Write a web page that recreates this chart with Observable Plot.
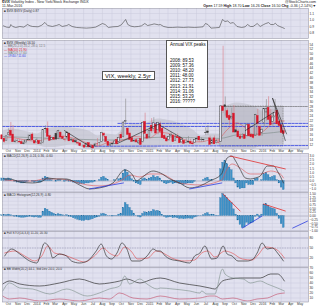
<!DOCTYPE html>
<html><head><meta charset="utf-8">
<script src="https://cdn.jsdelivr.net/npm/d3@7"></script>
<script src="https://cdn.jsdelivr.net/npm/@observablehq/plot@0.6"></script>
<style>
body{margin:0;background:#fff;}
#chart{position:relative;width:320px;height:308px;overflow:hidden;font-family:"Liberation Sans",Arial,sans-serif;color:#222;}
#chart svg{position:absolute;left:0;}
.hdr{position:absolute;font-size:3.6px;line-height:4px;white-space:nowrap;}
.note{position:absolute;background:#fff;border:0.6px solid #555;color:#111;box-sizing:border-box;}
</style></head><body><div id="chart"></div>
<script>
// ---------- DATA ----------
// weekly candles, week of 2013-09-09 .. week of 2016-03-07 (centre of week)
const firstWeek = "2013-09-11";
const vixOpen = [15.9,14.3,13.4, 16.0,17.8,16.2,13.3, 13.5,13.1,13.0,12.5,12.9, 14.0,13.8,16.2,13.4,
 12.9,13.5,12.3,12.6,18.5, 18.6,15.5,14.0,14.8, 16.5,14.3,17.0,15.2, 14.0,14.9,16.6,13.7, 13.8,13.4,12.6,12.5,11.4,
 11.6,10.9,12.6,11.2, 11.4,11.2,12.1,12.6, 13.2,16.5,15.2,13.2,11.6, 12.4,12.4,14.0,13.2, 16.0,15.2,21.5,18.7,16.6,
 14.7,13.4,13.8,12.5, 14.3,13.1,21.5,16.2,
 15.0,19.9,18.6,20.3,18.0, 20.4,18.6,15.6,14.6, 13.9,15.6,15.7,13.4, 15.1,14.9,12.9,13.6, 12.6,13.2,13.1,12.5,12.8,
 14.3,15.3,14.0,13.8, 17.0,17.5,14.6,12.4,14.6, 12.6,12.7,13.2,28.0, 28.5,26.0,24.0,23.0, 25.0,18.0,17.5,15.4,15.0,
 16.0,15.6,20.3,16.1, 16.1,15.8,24.0,19.3,
 17.0,21.1,25.5,27.4,24.0, 21.6,23.8,26.2,21.6, 20.1,17.6];
const vixHigh = [16.0,14.7,15.5, 18.7,21.3,20.0,14.2, 14.1,14.2,13.8,13.6,13.7, 16.1,16.3,16.9,13.5,
 14.6,14.0,13.8,18.2,19.9, 21.5,16.0,15.2,15.8, 17.4,18.0,17.4,16.0, 14.5,17.4,16.8,14.3, 14.2,14.0,13.4,12.8,11.8,
 12.2,12.6,12.6,12.0, 11.6,12.6,14.5,12.9, 17.2,17.1,15.4,13.2,12.4, 12.9,13.9,14.8,16.2, 17.0,21.6,31.1,18.9,17.2,
 15.0,13.8,14.5,13.6, 14.4,21.6,25.2,16.3,
 19.2,22.9,23.3,21.1,21.4, 21.5,19.3,16.2,14.6, 15.5,17.2,16.0,16.3, 16.5,15.1,14.4,14.0, 14.7,15.4,14.2,12.8,14.0,
 15.2,15.4,14.8,14.1, 19.0,20.0,15.5,13.9,15.6, 14.0,14.3,28.4,53.3, 32.0,27.0,24.6,27.3, 28.4,20.4,18.2,16.4,16.6,
 16.4,20.9,20.8,16.6, 19.0,24.7,26.8,19.9,
 18.7,27.1,30.9,32.1,26.8, 25.1,30.9,26.3,22.5, 20.4,18.7];
const vixLow = [13.9,12.6,13.3, 15.5,15.7,13.0,12.6, 12.6,12.6,12.1,11.9,12.3, 13.8,13.6,13.7,12.3,
 12.7,12.1,11.8,12.3,16.7, 15.2,13.5,13.6,13.6, 13.7,14.1,14.5,14.3, 13.1,13.9,13.3,13.2, 12.9,12.6,11.9,11.3,11.0,
 10.7,10.7,10.6,10.6, 10.3,10.9,10.9,11.3, 12.7,15.0,12.4,11.3,11.2, 11.4,12.1,11.9,12.9, 14.5,14.8,20.0,15.7,14.0,
 13.1,12.8,12.9,12.0, 11.8,12.6,16.4,14.2,
 14.6,16.7,17.4,16.0,16.1, 16.6,14.6,14.2,13.0, 13.3,15.0,13.0,13.4, 14.5,12.5,12.5,12.2, 12.4,12.6,12.2,11.8,12.6,
 13.5,12.8,13.0,12.9, 15.8,16.0,11.8,12.0,12.1, 12.3,12.3,12.9,25.0, 24.0,22.8,19.8,22.3, 17.0,16.9,15.0,14.4,14.3,
 14.3,15.2,15.2,14.9, 14.3,15.6,16.6,15.5,
 15.4,19.3,21.9,22.3,20.2, 19.7,23.2,20.3,19.1, 16.7,16.3];
const vixClose = [14.16,13.12,15.46, 16.74,15.72,13.04,13.09, 13.48,12.90,12.19,12.26,13.70, 13.79,15.76,13.79,12.46,
 13.76,12.14,12.44,18.14,18.41, 15.29,13.57,14.68,14.00, 14.11,17.82,15.00,14.41, 13.96,17.03,13.36,14.06, 12.91,12.92,12.44,11.36,11.40,
 10.73,12.18,10.85,11.26, 10.32,12.08,12.06,12.69, 16.95,15.77,13.15,11.47,12.09, 12.09,13.31,12.11,14.85, 14.55,21.24,21.99,16.11,14.03,
 13.12,13.31,12.90,13.33, 11.82,21.08,16.49,14.50,
 17.79,17.55,20.95,16.66,20.97, 17.29,14.69,14.30,13.34, 15.20,16.00,13.02,15.07, 14.67,12.58,13.89,12.29, 12.70,12.86,12.38,12.13,13.84,
 14.21,13.78,13.96,14.02, 16.79,16.83,11.95,13.74,12.12, 13.39,12.83,28.03,26.05, 27.80,23.20,22.28,23.62, 17.08,17.08,15.05,14.46,15.07,
 14.33,20.08,15.47,15.12, 14.81,24.39,20.70,15.74,
 18.21,27.01,27.02,22.34,20.20, 23.38,25.40,20.53,19.81, 16.86,16.50];

// overlays on the price panel (sampled)
const bandDates = ["2013-09-13","2013-10-11","2013-11-08","2013-12-06","2014-01-03","2014-01-31","2014-02-28","2014-03-28","2014-04-25","2014-05-23","2014-06-20","2014-07-18","2014-08-15","2014-09-12","2014-10-10","2014-11-07","2014-12-05","2015-01-02","2015-01-30","2015-02-27","2015-03-27","2015-04-24","2015-05-22","2015-06-19","2015-07-17","2015-08-14","2015-08-21","2015-08-28","2015-09-11","2015-10-09","2015-11-06","2015-12-04","2016-01-01","2016-01-29","2016-02-26","2016-03-11"];
const bandUpper = [17.5,18.5,18.0,17.2,16.5,18.3,19.2,19.5,19.0,18.6,17.6,15.6,16.4,16.0,18.8,20.6,20.2,21.6,22.7,22.2,21.4,20.0,18.0,15.5,16.4,16.3,23.5,27.5,28.5,29.5,29.0,28.0,26.0,26.5,27.5,28.0];
const bandLower = [11.8,12.0,12.0,11.8,11.6,10.8,10.8,11.3,11.9,11.0,9.8,9.9,9.5,9.9,9.0,9.2,9.7,9.6,10.8,11.5,12.0,11.6,11.4,11.8,11.7,11.6,8.5,7.5,7.0,7.5,8.5,10.0,11.5,11.0,12.0,12.5];
const ma10 = [14.6,14.96,14.36,13.69,13.41,14.44,14.49,15.54,14.84,13.75,12.22,11.47,12.73,13.17,14.06,15.34,15.24,14.84,17.11,16.8,15.65,14.04,13.16,13.2,13.99,13.94,15.37,16.58,18.59,21.14,19.0,15.86,17.39,20.55,21.96,21.9];
const ma50 = [["2013-09-13",15.4],["2014-03-01",14.6],["2014-09-01",13.9],["2015-03-01",15.2],["2015-08-14",14.6],["2015-10-15",16.2],["2016-01-01",16.6],["2016-03-11",17.6]];

// hand-drawn annotations on the price panel
const trendLines = [
  [["2014-03-31",17.9],["2014-06-26",10.8]],
  [["2014-09-19",12.5],["2015-02-04",20.9]],
  [["2015-02-04",20.0],["2015-04-17",14.6]],
  [["2015-11-06",17.9],["2016-02-05",25.5]],
  [["2016-02-02",31.4],["2016-03-14",13.7]],
  [["2016-02-02",31.4],["2016-03-18",16.5]]
];
const blueLevels = [
  [["2013-09-12",19.6],["2016-05-28",19.6]],
  [["2014-09-20",20.9],["2016-05-28",20.9]],
  [["2014-06-15",11.3],["2016-05-28",11.6]]
];
const rangeBox = [{start:"2015-08-17", end:"2016-03-08", low:11.2, high:28.0}];
const rangeTop = [["2015-08-17",28.0],["2016-05-28",28.0]];
const annualPeaks = [["2008","89.53"],["2009","57.36"],["2010","48.20"],["2011","48.00"],["2012","27.73"],["2013","21.91"],["2014","31.06"],["2015","53.29"],["2016","?????"]];

// top panel ratio line
const ratioLine = [["2013-09-15",0.91],["2013-09-25",0.89],["2013-10-05",0.885],["2013-10-09",0.93],["2013-10-15",0.90],["2013-10-25",0.885],["2013-11-07",0.90],["2013-11-20",0.89],["2013-12-02",0.931],["2013-12-10",0.91],["2013-12-18",0.90],["2014-01-05",0.895],["2014-01-17",0.92],["2014-01-27",0.962],["2014-02-05",0.915],["2014-02-20",0.90],["2014-03-05",0.915],["2014-03-14",0.931],["2014-03-24",0.90],["2014-04-08",0.915],["2014-04-14",0.931],["2014-04-25",0.90],["2014-05-09",0.885],["2014-05-25",0.88],["2014-06-10",0.875],["2014-06-25",0.88],["2014-07-10",0.89],["2014-08-01",0.946],["2014-08-10",0.93],["2014-08-20",0.885],["2014-09-04",0.895],["2014-09-20",0.90],["2014-10-01",0.925],["2014-10-15",1.008],["2014-10-22",0.93],["2014-11-01",0.905],["2014-11-12",0.895],["2014-11-25",0.90],["2014-12-05",0.91],["2014-12-16",0.946],["2014-12-25",0.915],["2015-01-08",0.93],["2015-01-15",0.94],["2015-01-30",0.925],["2015-02-04",0.93],["2015-02-15",0.90],["2015-03-01",0.885],["2015-03-16",0.885],["2015-04-01",0.89],["2015-04-20",0.885],["2015-05-05",0.89],["2015-05-25",0.885],["2015-06-12",0.89],["2015-06-22",0.895],["2015-06-30",0.946],["2015-07-08",0.93],["2015-07-18",0.875],["2015-08-01",0.88],["2015-08-14",0.885],["2015-08-24",1.008],["2015-09-01",0.977],["2015-09-10",0.985],["2015-09-18",0.95],["2015-09-28",0.96],["2015-10-10",0.90],["2015-10-25",0.885],["2015-11-05",0.895],["2015-11-13",0.931],["2015-11-22",0.90],["2015-12-01",0.90],["2015-12-10",0.93],["2015-12-14",0.946],["2015-12-24",0.90],["2016-01-04",0.93],["2016-01-11",0.946],["2016-01-20",0.96],["2016-01-27",0.93],["2016-02-05",0.93],["2016-02-11",0.95],["2016-02-18",0.915],["2016-02-25",0.90],["2016-03-04",0.885],["2016-03-11",0.87]];

// MACD panel
const macdLine = [["2013-09-19",0.24],["2013-10-05",0.24],["2013-11-07",-0.12],["2013-12-18",-0.24],["2014-01-20",0.0],["2014-02-05",0.36],["2014-03-05",0.24],["2014-04-07",0.24],["2014-05-19",-0.48],["2014-06-20",-0.96],["2014-07-22",-0.84],["2014-09-04",-0.24],["2014-10-12",1.33],["2014-11-04",0.84],["2014-11-20",0.0],["2014-11-30",0.24],["2015-01-12",1.2],["2015-02-04",0.96],["2015-03-07",0.24],["2015-04-07",-0.24],["2015-05-10",-0.84],["2015-06-12",-0.6],["2015-07-14",0.0],["2015-08-21",0.84],["2015-09-08",2.77],["2015-09-24",3.0],["2015-10-04",2.5],["2015-10-20",1.4],["2015-11-06",0.36],["2015-11-22",0.24],["2015-12-08",0.36],["2015-12-24",0.6],["2016-01-16",1.8],["2016-02-05",1.8],["2016-02-21",0.96],["2016-03-08",-0.24]];
const signalLine = [["2013-09-19",0.12],["2013-11-07",0.0],["2013-12-18",0.0],["2014-01-26",0.24],["2014-03-15",0.24],["2014-04-23",0.0],["2014-06-13",-0.48],["2014-07-22",-0.6],["2014-09-04",-0.36],["2014-10-03",0.12],["2014-10-28",0.72],["2014-11-30",0.48],["2014-12-31",0.84],["2015-02-04",0.84],["2015-04-07",-0.24],["2015-06-12",-0.48],["2015-08-21",0.1],["2015-09-08",1.45],["2015-09-24",2.05],["2015-10-20",1.57],["2015-11-22",0.84],["2015-12-24",0.84],["2016-01-27",1.2],["2016-02-27",0.84],["2016-03-08",0.36]];
const macdHist = [0.3,0.3,0.2, 0.3,0.2,0.0,-0.1, -0.2,-0.2,-0.3,-0.3,-0.2, -0.1,0.0,-0.1,-0.2,
 -0.1,-0.2,-0.2,0.3,0.5, 0.4,0.2,0.1,0.0, -0.1,0.1,0.1,0.0, -0.1,0.1,-0.1,-0.1, -0.2,-0.2,-0.3,-0.4,-0.4,
 -0.4,-0.3,-0.3,-0.2, -0.2,-0.1,0.0,0.1, 0.4,0.5,0.3,0.1,0.0, 0.0,0.1,0.0,0.2, 0.3,0.9,1.3,1.0,0.6,
 0.2,-0.1,-0.3,-0.4, -0.5,0.2,0.3,0.1,
 0.3,0.4,0.6,0.4,0.5, 0.3,-0.1,-0.3,-0.4, -0.3,-0.2,-0.4,-0.3, -0.3,-0.4,-0.4,-0.5, -0.4,-0.3,-0.3,-0.3,-0.1,
 0.0,0.0,0.0,0.1, 0.3,0.4,0.1,0.1,0.0, 0.0,0.0,1.4,2.2, 2.4,2.0,1.6,1.3, 0.3,-0.3,-0.8,-1.0,-0.9,
 -0.9,-0.3,-0.5,-0.5, -0.5,0.2,0.3,0.0,
 0.1,0.8,1.0,0.7,0.4, 0.5,0.6,0.1,-0.3, -0.8,-1.1];
const macdRedLines = [[["2015-09-18",3.0],["2016-03-14",1.45]]];
const macdBlueLines = [[["2014-06-20",-0.96],["2014-10-08",-0.24]],[["2015-05-10",-0.96],["2015-08-22",-0.24]]];

// histogram panel
const histB = [0.05,0.08,0.05, 0.1,0.05,-0.02,-0.05, -0.08,-0.1,-0.12,-0.12,-0.1, -0.08,-0.05,-0.08,-0.1,
 -0.08,-0.12,-0.12,0.3,0.49, 0.42,0.3,0.22,0.15, 0.08,0.12,0.1,0.05, 0.02,0.06,-0.05,-0.08, -0.15,-0.2,-0.25,-0.3,-0.34,
 -0.34,-0.28,-0.3,-0.25, -0.22,-0.15,-0.1,-0.05, 0.12,0.15,0.1,0.02,-0.02, -0.03,0.02,-0.02,0.1, 0.15,0.55,0.88,0.75,0.55,
 0.35,0.15,0.02,-0.05, -0.1,0.15,0.25,0.2,
 0.25,0.3,0.4,0.32,0.35, 0.25,0.08,-0.05,-0.12, -0.1,-0.08,-0.15,-0.12, -0.15,-0.2,-0.18,-0.22, -0.2,-0.18,-0.18,-0.2,-0.1,
 -0.05,-0.02,0.02,0.05, 0.15,0.2,0.08,0.1,0.05, 0.03,0.02,1.2,1.49, 1.38,1.2,1.02,0.88, 0.45,0.1,-0.3,-0.6,-0.81,
 -0.78,-0.45,-0.55,-0.5, -0.45,-0.05,0.1,-0.1,
 0.1,0.75,0.81,0.7,0.55, 0.5,0.45,0.15,-0.2, -0.55,-0.8];
const histRedLines = [[["2015-08-26",1.49],["2015-10-20",0.34]],[["2016-01-04",0.81],["2016-03-14",0.34]]];
const histBlueLines = [[["2015-10-27",-0.81],["2015-12-30",0.0]],[["2016-04-07",-0.81],["2016-05-25",-0.34]]];

// stochastic panel
const stoK = [["2013-09-19",26],["2013-10-12",47],["2013-11-07",32],["2013-12-09",11],["2014-01-01",5],["2014-01-26",65],["2014-02-12",47],["2014-02-21",20],["2014-03-15",32],["2014-04-07",26],["2014-04-23",11],["2014-05-19",5],["2014-06-13",11],["2014-07-12",41],["2014-07-28",62],["2014-08-14",26],["2014-08-30",17],["2014-09-17",35],["2014-10-03",65],["2014-10-19",47],["2014-11-04",11],["2014-11-30",11],["2014-12-23",26],["2015-01-12",47],["2015-01-25",41],["2015-02-04",41],["2015-02-20",26],["2015-03-07",17],["2015-04-07",11],["2015-05-10",5],["2015-05-26",26],["2015-06-12",35],["2015-06-28",56],["2015-07-20",17],["2015-08-06",20],["2015-08-26",56],["2015-09-08",32],["2015-09-24",26],["2015-10-13",11],["2015-11-12",11],["2015-12-01",17],["2015-12-14",35],["2015-12-30",65],["2016-01-16",47],["2016-02-02",50],["2016-02-18",35],["2016-03-08",11]];
const stoD = [["2013-09-19",35],["2013-10-22",41],["2013-11-23",26],["2013-12-25",11],["2014-01-17",26],["2014-02-05",56],["2014-02-27",35],["2014-03-31",29],["2014-05-03",17],["2014-06-04",8],["2014-07-06",26],["2014-08-04",50],["2014-08-23",35],["2014-09-17",26],["2014-10-12",53],["2014-11-01",41],["2014-11-23",17],["2014-12-26",20],["2015-01-22",41],["2015-02-13",35],["2015-03-13",20],["2015-04-23",11],["2015-05-26",14],["2015-06-18",35],["2015-07-08",41],["2015-07-30",23],["2015-09-01",41],["2015-09-24",35],["2015-10-27",17],["2015-11-28",14],["2015-12-17",29],["2016-01-09",53],["2016-02-02",50],["2016-02-21",41],["2016-03-11",20]];

// bottom panel
const slowLine = [["2013-09-13",38],["2013-10-05",44],["2013-11-07",38],["2014-01-10",34],["2014-03-15",40],["2014-05-19",48],["2014-07-22",38],["2014-08-23",40],["2014-09-26",44],["2014-10-19",48],["2014-11-30",40],["2015-01-12",48],["2015-02-04",50],["2015-04-07",40],["2015-06-12",34],["2015-07-14",30],["2015-07-30",28],["2015-08-24",44],["2015-09-18",48],["2015-10-20",50],["2015-12-24",50],["2016-01-27",58],["2016-02-18",58],["2016-03-11",44]];
const fastLine = [["2013-09-13",24],["2013-10-05",40],["2013-11-07",30],["2013-12-18",28],["2014-02-12",18],["2014-04-07",28],["2014-06-13",14],["2014-07-22",20],["2014-08-23",28],["2014-09-26",34],["2014-10-12",54],["2014-10-28",38],["2014-11-30",48],["2014-12-23",38],["2015-01-25",28],["2015-02-04",30],["2015-03-16",28],["2015-05-10",24],["2015-06-12",20],["2015-06-18",24],["2015-07-04",18],["2015-07-30",18],["2015-08-24",68],["2015-09-01",58],["2015-09-27",50],["2015-10-30",48],["2015-11-22",40],["2015-12-24",44],["2016-01-16",38],["2016-02-18",30],["2016-03-11",24]];
const lowLine = [["2013-09-13",14],["2013-10-05",8],["2013-11-07",10],["2014-01-10",4],["2014-03-15",8],["2014-05-19",4],["2014-07-22",10],["2014-08-23",8],["2014-09-26",20],["2014-11-08",10],["2014-12-23",8],["2015-02-04",14],["2015-04-07",8],["2015-06-12",10],["2015-07-14",14],["2015-07-30",14],["2015-08-24",8],["2015-09-27",10],["2015-11-12",4],["2015-12-14",8],["2016-01-16",10],["2016-02-18",18],["2016-03-11",20]];

const monthNames = ["Jan","Feb","Mar","Apr","May","Jun","Jul","Aug","Sep","Oct","Nov","Dec"];

// ---------- DRAWING ----------
const BG = "#e1e1ef", GRID = "#cacadd", FONT = "Liberation Sans, Arial, sans-serif";
const RED = "#d8182a", BLUE = "#2f3fe0", HIST = "#3d91c8";
const xDomain = [new Date("2013-09-12"), new Date("2016-05-28")];
const monthTicks = d3.utcMonth.range(new Date("2013-10-01"), new Date("2016-06-01"));
const fmtMonth = d => d.getUTCMonth() === 0 ? String(d.getUTCFullYear()) : monthNames[d.getUTCMonth()];
const pts = arr => arr.map(([d, v]) => ({date: new Date(d), v}));
const weeks = vixClose.map((_, i) => d3.utcDay.offset(new Date(firstWeek), 7 * i));
const half = d => [d3.utcHour.offset(d, -68), d3.utcHour.offset(d, 68)];
const candles = weeks.map((date, i) => {
  const prev = i ? vixClose[i - 1] : vixOpen[i];
  return {date, a: half(date)[0], b: half(date)[1], open: vixOpen[i], high: vixHigh[i], low: vixLow[i], close: vixClose[i],
    col: vixClose[i] >= prev ? "#3a3a3a" : RED, filled: vixClose[i] < vixOpen[i]};
});
const bars = (vals) => weeks.map((date, i) => ({a: half(date)[0], b: half(date)[1], v: vals[i]}));
const band = bandDates.map((d, i) => ({date: new Date(d), up: bandUpper[i], lo: bandLower[i], ma: ma10[i]}));

const chart = document.getElementById("chart");
function label(lines, dy0) {
  return lines.map(([t, c], k) => Plot.text([t], {text: d => d, frameAnchor: "top-left", dx: 1.5, dy: dy0 + k * 3.4, fontSize: 3.1, fill: c}));
}
function panel(top, h, mb, domain, ticks, tickFmt, marks) {
  const svg = Plot.plot({
    width: 320, height: h + mb, marginLeft: 2, marginRight: 12, marginTop: 0, marginBottom: mb,
    style: {fontFamily: FONT, fontSize: "3.3px", background: "transparent", color: "#333", overflow: "visible"},
    x: {type: "utc", domain: xDomain, axis: mb ? "bottom" : null, ticks: monthTicks, tickFormat: fmtMonth, tickSize: 0, tickPadding: 1, label: null},
    y: {domain, axis: "right", ticks, tickFormat: tickFmt, tickSize: 0, tickPadding: 1, label: null},
    marks: [
      Plot.frame({fill: BG}),
      Plot.ruleX(monthTicks, {stroke: GRID, strokeWidth: 0.5}),
      Plot.ruleY(ticks, {stroke: GRID, strokeWidth: 0.5}),
      ...marks,
      Plot.frame({stroke: "#9c9cab", strokeWidth: 0.6})
    ]
  });
  svg.style.top = top + "px";
  chart.appendChild(svg);
}
const line = (arr, o) => Plot.line(pts(arr), {x: "date", y: "v", clip: true, ...o});

// P1 ratio
panel(8, 30, 0, [0.715, 1.177], [0.8, 0.9, 1.0, 1.1], d3.format(".1f"), [
  line(ratioLine, {stroke: "#444", strokeWidth: 0.6}),
  ...label([["■ $VIX:$VXV (Daily) 0.87", "#333"]], 0.8)
]);

// P2 price
panel(40, 108.5, 4, [10.15, 55.72], d3.range(12, 55, 2), d3.format(".0f"), [
  Plot.areaY(band, {x: "date", y1: "lo", y2: "up", fill: "#b9b9c4", fillOpacity: 0.5, curve: "monotone-x", clip: true}),
  Plot.rect(rangeBox, {x1: d => new Date(d.start), x2: d => new Date(d.end), y1: "low", y2: "high", fill: "#adadb8", fillOpacity: 0.35, stroke: "#777", strokeWidth: 0.5, strokeDasharray: "1.5,1"}),
  line(rangeTop, {stroke: "#666", strokeWidth: 0.6, strokeDasharray: "1.5,1"}),
  ...blueLevels.map(l => line(l, {stroke: BLUE, strokeWidth: 0.8, strokeDasharray: "2.5,1.2"})),
  Plot.line(band, {x: "date", y: "ma", stroke: "#e04a4a", strokeWidth: 0.5, curve: "monotone-x"}),
  line(ma50, {stroke: "#7a8a86", strokeWidth: 0.6, curve: "monotone-x"}),
  Plot.ruleX(candles, {x: "date", y1: "low", y2: "high", stroke: d => d.col === RED ? "#d87a84" : "#8a8a8a", strokeWidth: 0.6}),
  Plot.rect(candles, {x1: "a", x2: "b", y1: "open", y2: "close", fill: d => d.filled ? d.col : BG, stroke: "col", strokeWidth: 0.45}),
  ...trendLines.map(l => line(l, {stroke: "#222", strokeWidth: 0.6})),
  ...label([["■ $VIX (Weekly) 16.50", "#222"], ["— BB(20,2.0) 20.2, 28.0, 12.5", "#777"], ["— MA(10) 21.90", RED], ["— MA(50) 17.60", "#6a7a76"], ["— 19.60 / 11.60", BLUE]], 1)
]);

// P3 MACD
panel(152.5, 38.5, 0, [-1.33, 3.31], d3.range(-1, 3.01, 0.5), d3.format(".1f"), [
  Plot.ruleY([0], {stroke: "#9a9ab0", strokeWidth: 0.5}),
  Plot.rectY(bars(macdHist), {x1: "a", x2: "b", y: "v", fill: HIST, stroke: "#1f6a9c", strokeWidth: 0.25}),
  line(signalLine, {stroke: "#e05555", strokeWidth: 0.6, curve: "monotone-x"}),
  line(macdLine, {stroke: "#333", strokeWidth: 0.7, curve: "monotone-x"}),
  ...macdRedLines.map(l => line(l, {stroke: "#e03030", strokeWidth: 0.8})),
  ...macdBlueLines.map(l => line(l, {stroke: BLUE, strokeWidth: 0.8})),
  ...label([["■ MACD(12,26,9) -0.24, 0.36, -0.60", "#333"]], 0.8)
]);

// P4 histogram
panel(191.5, 38.5, 0, [-1.01, 1.59], d3.range(-1, 1.51, 0.25), d3.format(".2f"), [
  Plot.ruleY([0], {stroke: "#9a9ab0", strokeWidth: 0.5}),
  Plot.rectY(bars(histB), {x1: "a", x2: "b", y: "v", fill: HIST, stroke: "#1f6a9c", strokeWidth: 0.25}),
  ...histRedLines.map(l => line(l, {stroke: "#e03030", strokeWidth: 0.8})),
  ...histBlueLines.map(l => line(l, {stroke: BLUE, strokeWidth: 0.8})),
  ...label([["■ MACD Histogram(12,26,9) -0.80", "#333"]], 0.8)
]);

// P5 stochastics
panel(230.5, 35.5, 0, [-7, 99.5], [20, 50, 80], d3.format(".0f"), [
  Plot.ruleY([20, 80], {stroke: "#a0a0b8", strokeWidth: 0.6}),
  Plot.ruleY([50], {stroke: "#a0a0b8", strokeWidth: 0.6, strokeDasharray: "1.5,1"}),
  line(stoD, {stroke: "#e04a4a", strokeWidth: 0.6, curve: "monotone-x"}),
  line(stoK, {stroke: "#333", strokeWidth: 0.7, curve: "monotone-x"}),
  ...label([["■ Full STO(14,3,3) 11.20, 20.30", "#333"]], 0.6)
]);

// P6 bottom lines
panel(266.5, 34.5, 7, [2, 71], d3.range(10, 71, 10), d3.format(".0f"), [
  line(slowLine, {stroke: "#333", strokeWidth: 0.7, curve: "monotone-x"}),
  line(fastLine, {stroke: "#7c8f88", strokeWidth: 0.6, curve: "monotone-x"}),
  line(lowLine, {stroke: "#c24c66", strokeWidth: 0.6, curve: "monotone-x"}),
  ...label([["■ BB Width(20,2) 44.1, Std Dev 24.0, 20.0", "#333"]], 0.6)
]);

// header and notes
function div(cls, css, html) { const e = document.createElement("div"); e.className = cls; e.style.cssText = css; e.innerHTML = html; chart.appendChild(e); return e; }
div("hdr", "left:2px;top:0px;", "<b>$VIX</b> Volatility Index - New York/Stock Exchange INDX<br>11-Mar-2016");
div("hdr", "right:4px;top:0px;text-align:right;", "@StockCharts.com<br><b>Open</b> 17.59 <b>High</b> 18.70 <b>Low</b> 16.26 <b>Close</b> 16.50 <b>Chg</b> -0.36 (-2.14%)▼");
div("note", "left:102px;top:71px;width:53px;height:9px;font-size:5.8px;line-height:8px;padding-left:2px;", "VIX, weekly, 2.5yr");
div("note", "left:166px;top:40px;width:42px;height:68px;font-size:4.5px;line-height:5.2px;padding:1px 0 0 3px;",
  "Annual VIX peaks<br><br><br>" + annualPeaks.map(([y, v]) => `${y}: ${v}`).join("<br>"));
</script></body></html>
